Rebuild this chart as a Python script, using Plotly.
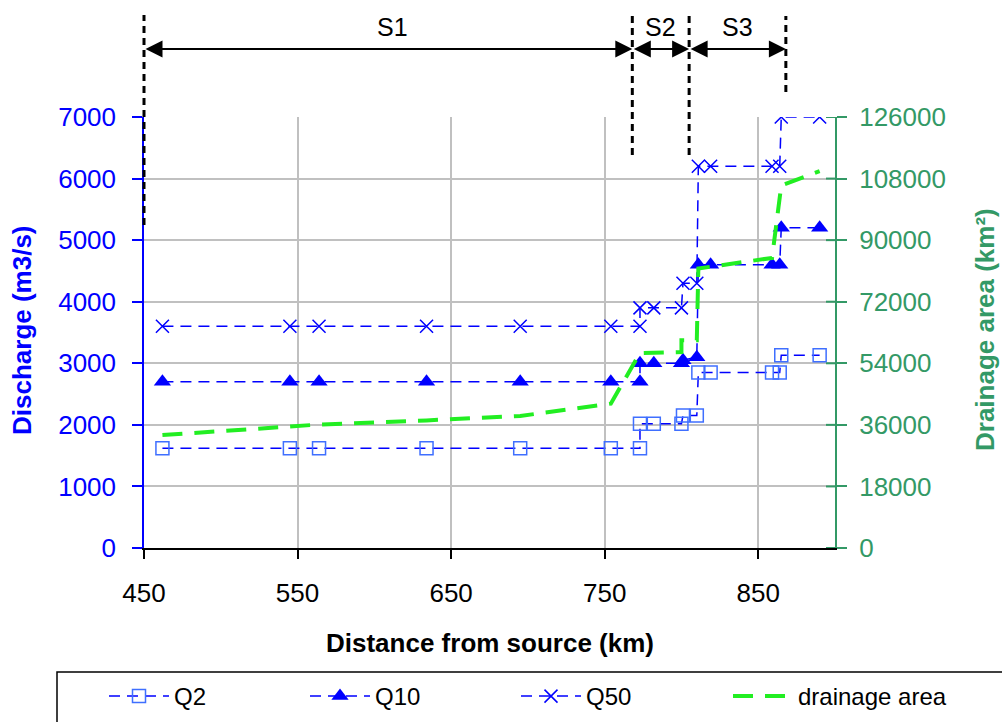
import plotly.graph_objects as go

# ---------------- data ----------------
dist = [462, 545, 564, 634, 695, 754, 773, 773, 782, 800, 801, 810, 811, 819, 859, 864, 865, 890]
q2 = [1620, 1620, 1620, 1620, 1620, 1620, 1620, 2020, 2020, 2020, 2150, 2150, 2850, 2850, 2850, 2850, 3130, 3130]
q10 = [2700, 2700, 2700, 2700, 2700, 2700, 2700, 3000, 3000, 3000, 3050, 3100, 4600, 4600, 4600, 4600, 5200, 5200]
q50 = [3600, 3600, 3600, 3600, 3600, 3600, 3600, 3900, 3900, 3900, 4300, 4300, 6200, 6200, 6200, 6200, 7000, 7000]

area_dist = [462, 545, 564, 634, 695, 754, 773, 800, 800, 810, 811, 859, 865, 890]
area = [33000, 35600, 36100, 37300, 38600, 42200, 57000, 57300, 60700, 60700, 81700, 84800, 106000, 110200]

x_range = [450, 900]
x_ticks = [450, 550, 650, 750, 850]
y_ticks = [0, 1000, 2000, 3000, 4000, 5000, 6000, 7000]
y2_ticks = [0, 18000, 36000, 54000, 72000, 90000, 108000, 126000]

section_bounds = [450, 768, 805, 868]
section_labels = ["S1", "S2", "S3"]

# ---------------- layout helpers ----------------
W, H = 1002, 722
L, R, T, B = 144, 167, 117, 174
PW, PH = W - L - R, H - T - B


def py(p):
    return (H - B - p) / PH


def px(p):
    return (p - L) / PW


def xpaper(v):
    return (v - x_range[0]) / (x_range[1] - x_range[0])


BLUE = "#0000ff"
GREEN_AX = "#339966"
GREEN = "#22ee22"
GRID = "#c0c0c0"
FONT = "Liberation Sans, Arial, sans-serif"
FS = 26

fig = go.Figure()
fig.add_trace(go.Scatter(
    x=dist, y=q2, name="Q2", mode="lines+markers", legend="legend",
    line=dict(color=BLUE, width=1.5, dash="11px,7px"),
    marker=dict(symbol="square-open", size=13, color="#3f6fff", line=dict(width=1.5)),
))
fig.add_trace(go.Scatter(
    x=dist, y=q10, name="Q10", mode="lines+markers", legend="legend2",
    line=dict(color=BLUE, width=1.5, dash="11px,7px"),
    marker=dict(symbol="triangle-up", size=15, color=BLUE),
))
fig.add_trace(go.Scatter(
    x=dist, y=q50, name="Q50", mode="lines+markers", legend="legend3",
    line=dict(color=BLUE, width=1.5, dash="11px,7px"),
    marker=dict(symbol="x-thin-open", size=13, color=BLUE, line=dict(width=1.5, color=BLUE)),
))
fig.add_trace(go.Scatter(
    x=area_dist, y=area, name="drainage area", mode="lines", yaxis="y2", legend="legend4",
    line=dict(color=GREEN, width=4, dash="20px,12px"),
))

shapes = []
ann = []

# section boundary dashed lines
tops = [15, 15, 13, 16]
bots = [225, 155, 155, 92]
for xb, t0, b0 in zip(section_bounds, tops, bots):
    shapes.append(dict(type="line", xref="paper", yref="paper", x0=xpaper(xb), x1=xpaper(xb),
                       y0=py(b0), y1=py(t0), layer="above",
                       line=dict(color="black", width=3, dash="7px,5px")))

# double arrows and labels
arrow_y = py(49)
for i, lab in enumerate(section_labels):
    a, b = section_bounds[i], section_bounds[i + 1]
    ann.append(dict(x=b, y=arrow_y, xref="x", yref="paper", ax=a, ay=0,
                    axref="x", ayref="pixel", text="", showarrow=True,
                    arrowhead=2, startarrowhead=2, arrowside="end+start",
                    arrowwidth=2, arrowsize=1.7, startarrowsize=1.7,
                    arrowcolor="black", standoff=0, startstandoff=0))
    xm = (a + b) / 2 + (3 if i == 0 else 0)
    ann.append(dict(x=xm, y=py(27), xref="x", yref="paper", text=lab,
                    showarrow=False, xanchor="center", yanchor="middle",
                    font=dict(size=25, color="black", family=FONT)))

# inner half of the crossing ticks on right axis
for v in y2_ticks:
    shapes.append(dict(type="line", xref="paper", yref="y2", x0=1 - 9 / PW, x1=1,
                       y0=v, y1=v, line=dict(color=GREEN_AX, width=2)))

# legend box
shapes.append(dict(type="rect", xref="paper", yref="paper", x0=px(57), x1=px(1012),
                   y0=py(740), y1=py(672), line=dict(color="black", width=1.5)))

# axis titles
ann.append(dict(x=px(490), y=py(643), xref="paper", yref="paper",
                text="<b>Distance from source (km)</b>", showarrow=False,
                xanchor="center", yanchor="middle",
                font=dict(size=FS, color="black", family=FONT)))
ann.append(dict(x=px(22), y=py(330), xref="paper", yref="paper",
                text="<b>Discharge (m3/s)</b>", showarrow=False, textangle=-90,
                xanchor="center", yanchor="middle",
                font=dict(size=FS, color=BLUE, family=FONT)))
ann.append(dict(x=px(985), y=py(330), xref="paper", yref="paper",
                text="<b>Drainage area (km²)</b>", showarrow=False, textangle=-90,
                xanchor="center", yanchor="middle",
                font=dict(size=FS, color=GREEN_AX, family=FONT)))


def leg(xpix):
    return dict(orientation="h", x=xpix / W, y=(H - 674) / H, xanchor="left", yanchor="top",
                xref="container", yref="container", font=dict(size=24, color="black"),
                itemwidth=60, bgcolor="rgba(0,0,0,0)", borderwidth=0)


fig.update_layout(
    width=W, height=H,
    margin=dict(l=L, r=R, t=T, b=B, autoexpand=False),
    paper_bgcolor="white", plot_bgcolor="white",
    font=dict(family=FONT, size=FS, color="black"),
    showlegend=True,
    legend=leg(104), legend2=leg(305), legend3=leg(516), legend4=leg(728),
    xaxis=dict(range=x_range, tickmode="array", tickvals=x_ticks, tickformat="d",
               showgrid=True, gridcolor=GRID, gridwidth=1.5, zeroline=False,
               showline=True, linecolor="black", linewidth=1.5,
               ticks="outside", ticklen=9, tickwidth=1.5, tickcolor="black",
               tickfont=dict(size=FS, color="black"), ticklabelstandoff=12),
    yaxis=dict(range=[0, 7000], tickmode="array", tickvals=y_ticks, tickformat="d",
               showgrid=True, gridcolor=GRID, gridwidth=1.5, zeroline=False,
               showline=True, linecolor=BLUE, linewidth=1.5,
               ticks="outside", ticklen=10, tickwidth=1.5, tickcolor=BLUE,
               tickfont=dict(size=FS, color=BLUE), ticklabelstandoff=11),
    yaxis2=dict(range=[0, 126000], tickmode="array", tickvals=y2_ticks, tickformat="d",
                overlaying="y", side="right", showgrid=False, zeroline=False,
                showline=True, linecolor=GREEN_AX, linewidth=2,
                ticks="outside", ticklen=10, tickwidth=2, tickcolor=GREEN_AX,
                tickfont=dict(size=FS, color=GREEN_AX), ticklabelstandoff=7),
    shapes=shapes, annotations=ann,
)

fig.write_html("out.html", config={"displayModeBar": False},
               post_script="document.body.style.margin='0';document.body.style.overflow='hidden';")
